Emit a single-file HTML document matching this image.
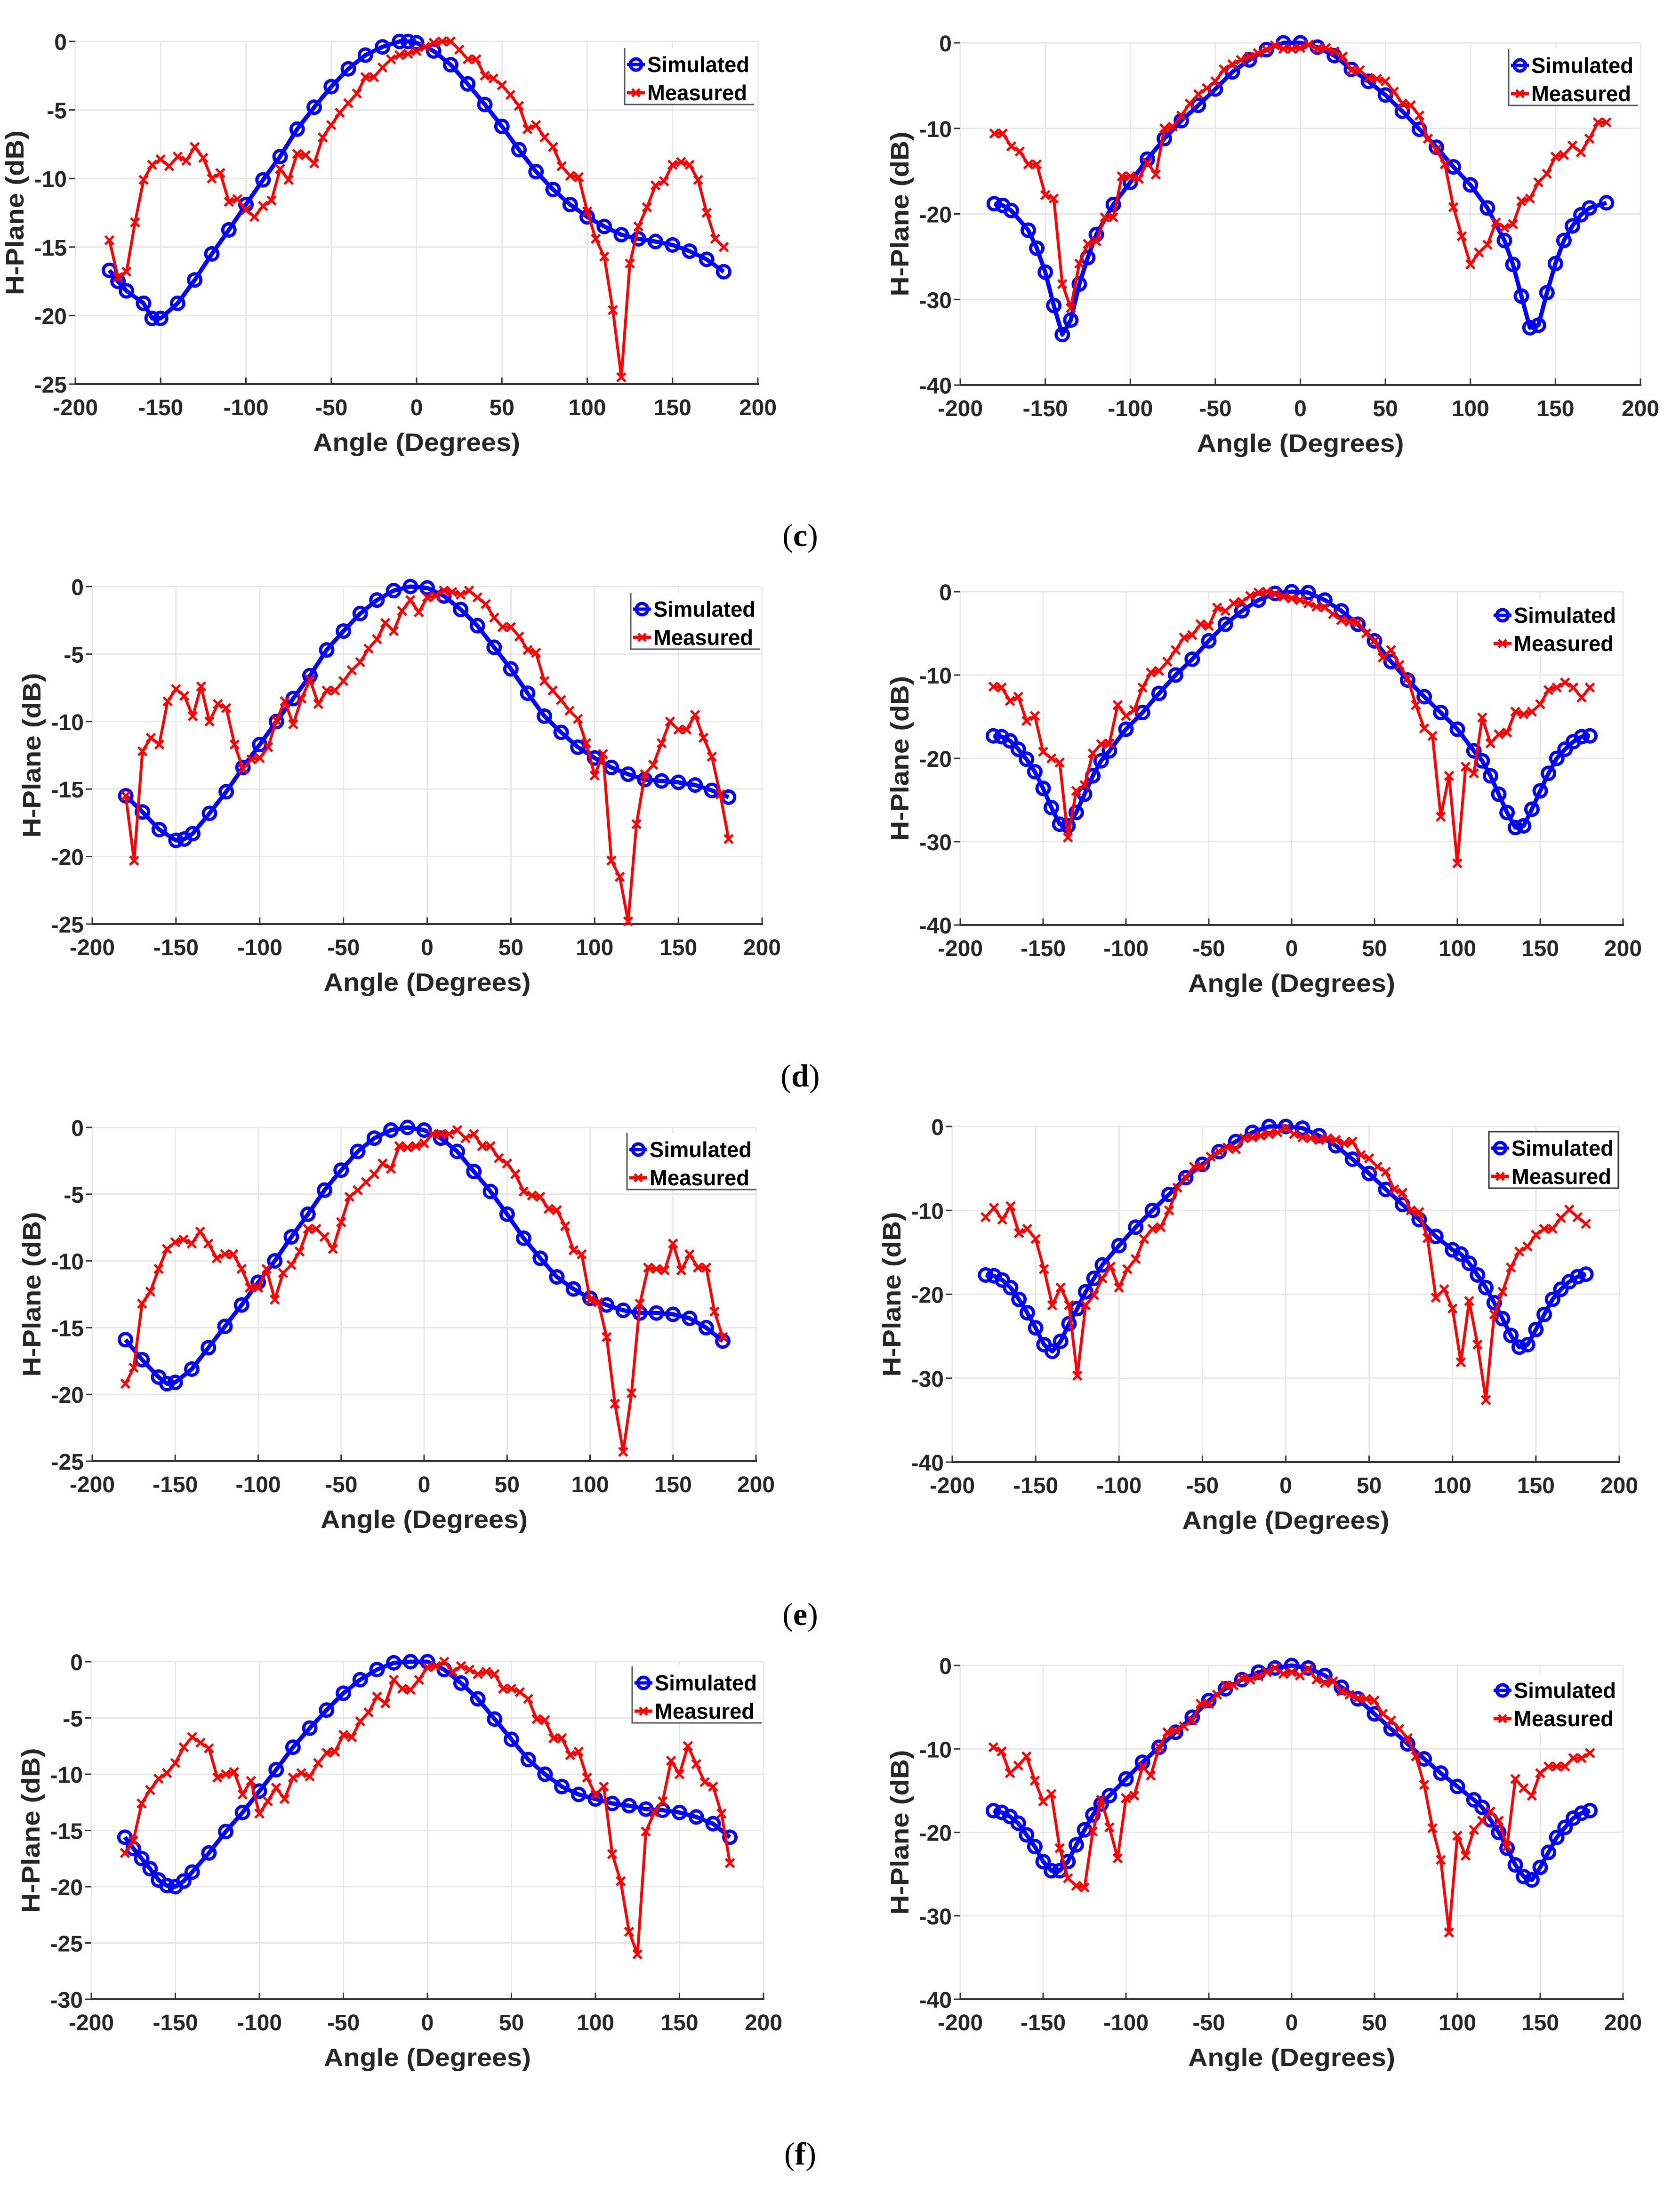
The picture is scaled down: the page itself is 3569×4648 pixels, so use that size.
<!DOCTYPE html>
<html><head><meta charset="utf-8"><style>
html,body{margin:0;padding:0;background:#fff;}
svg{display:block;}
</style></head><body>
<svg id="fig" xmlns="http://www.w3.org/2000/svg" width="3569" height="4648" viewBox="0 0 3569 4648"></svg>
<script>
// ---- Data ----
const angles5 = [-180,-175,-170,-165,-160,-155,-150,-145,-140,-135,-130,-125,-120,-115,-110,-105,-100,-95,-90,-85,-80,-75,-70,-65,-60,-55,-50,-45,-40,-35,-30,-25,-20,-15,-10,-5,0,5,10,15,20,25,30,35,40,45,50,55,60,65,70,75,80,85,90,95,100,105,110,115,120,125,130,135,140,145,150,155,160,165,170,175,180];

const simAnglesCL = [-180,-175,-170,-160,-155,-150,-140,-130,-120,-110,-100,-90,-80,-70,-60,-50,-40,-30,-20,-10,-5,0,10,20,30,40,50,60,70,80,90,100,110,120,130,140,150,160,170,180];
const simCL = [-16.7,-17.5,-18.2,-19.1,-20.2,-20.2,-19.1,-17.4,-15.5,-13.75,-11.9,-10.1,-8.4,-6.4,-4.8,-3.3,-2.0,-1.0,-0.4,0,0,-0.1,-0.7,-1.7,-3.1,-4.6,-6.2,-7.9,-9.5,-10.8,-11.9,-12.8,-13.5,-14.1,-14.4,-14.6,-14.85,-15.3,-15.9,-16.8];
const measCL = [-14.5,-17.2,-16.8,-13.2,-10.1,-9.0,-8.6,-9.1,-8.4,-8.7,-7.7,-8.5,-10.0,-9.6,-11.7,-11.5,-12.3,-12.8,-12.0,-11.6,-9.3,-10.1,-8.2,-8.3,-8.9,-7.0,-6.1,-5.2,-4.5,-3.8,-2.6,-2.6,-1.9,-1.3,-1.0,-0.9,-0.7,-0.4,-0.1,0,0,-0.6,-1.3,-1.3,-2.5,-2.7,-3.2,-3.9,-4.7,-6.4,-6.1,-7.0,-7.7,-9.1,-9.8,-9.9,-12.4,-14.4,-15.7,-19.6,-24.5,-16.2,-13.5,-12.1,-10.5,-10.2,-9.0,-8.8,-9.0,-10.1,-12.5,-14.4,-15.0];

const simAnglesCR = [-180,-175,-170,-160,-155,-150,-145,-140,-135,-130,-125,-120,-110,-100,-90,-80,-70,-60,-50,-40,-30,-20,-10,0,10,20,30,40,50,60,70,80,90,100,110,120,125,130,135,140,145,150,155,160,165,170,180];
const simCR = [-18.8,-19.0,-19.6,-21.9,-24.0,-26.8,-30.7,-34.1,-32.4,-28.2,-25.1,-22.4,-18.9,-16.3,-13.6,-11.2,-9.1,-7.3,-5.4,-3.4,-2.0,-0.8,0,0,-0.5,-1.5,-3.1,-4.5,-6.1,-8.0,-10.1,-12.2,-14.5,-16.6,-19.3,-23.1,-25.9,-29.6,-33.3,-33.0,-29.2,-25.8,-23.1,-21.4,-20.1,-19.3,-18.7];
const measCR = [-10.6,-10.6,-12.1,-12.7,-14.2,-14.2,-17.8,-18.2,-28.2,-31.0,-25.8,-23.5,-23.2,-20.4,-20.4,-15.6,-15.6,-15.9,-14.0,-15.4,-10.0,-9.8,-8.5,-7.1,-6.0,-5.3,-4.5,-3.1,-2.5,-2.0,-1.6,-1.2,-0.8,-0.3,-0.7,-0.7,-0.6,-0.2,-0.7,-0.6,-1.0,-1.6,-3.2,-3.2,-4.1,-4.2,-4.5,-5.7,-7.1,-7.3,-8.5,-11.2,-12.5,-14.2,-19.2,-22.6,-25.9,-24.5,-23.6,-21.0,-21.6,-21.2,-18.5,-18.2,-16.3,-15.3,-13.3,-13.1,-12.0,-12.8,-11.2,-9.3,-9.3];

const simAnglesDL = [-180,-170,-160,-150,-145,-140,-130,-120,-110,-100,-90,-80,-70,-60,-50,-40,-30,-20,-10,0,10,20,30,40,50,60,70,80,90,100,110,120,130,140,150,160,170,180];
const simDL = [-15.5,-16.7,-18.0,-18.8,-18.7,-18.3,-16.8,-15.2,-13.4,-11.7,-10.0,-8.3,-6.6,-4.7,-3.3,-2.0,-1.0,-0.3,0,-0.1,-0.7,-1.7,-2.9,-4.5,-6.1,-7.9,-9.6,-10.8,-11.9,-12.7,-13.4,-13.9,-14.3,-14.4,-14.5,-14.7,-15.1,-15.6];
const measDL = [-15.5,-20.3,-12.2,-11.2,-11.7,-8.5,-7.6,-8.1,-9.6,-7.4,-10.0,-8.7,-9.0,-11.7,-13.5,-12.8,-12.7,-11.9,-9.9,-8.5,-10.2,-8.3,-6.9,-8.7,-7.7,-7.7,-7.0,-6.2,-5.6,-4.6,-3.9,-2.7,-3.3,-1.8,-1.0,-1.9,-0.8,-0.7,-0.3,-0.4,-0.6,-0.3,-0.8,-1.3,-2.3,-3.0,-3.0,-3.7,-4.7,-4.9,-7.0,-7.7,-8.4,-9.2,-9.8,-11.6,-14.0,-12.4,-20.3,-21.5,-24.8,-17.6,-13.9,-13.2,-11.6,-10.0,-10.6,-10.6,-9.5,-11.2,-12.6,-15.4,-18.7];

const simAnglesDR = [-180,-175,-170,-165,-160,-155,-150,-145,-140,-135,-130,-125,-120,-115,-110,-100,-90,-80,-70,-60,-50,-40,-30,-20,-10,0,10,20,30,40,50,60,70,80,90,100,110,115,120,125,130,135,140,145,150,155,160,165,170,175,180];
const simDR = [-17.3,-17.4,-17.9,-18.9,-20.1,-21.6,-23.6,-25.9,-27.9,-28.1,-26.5,-24.3,-22.1,-20.3,-19.1,-16.5,-14.5,-12.2,-10.0,-8.1,-5.9,-3.9,-2.3,-1.0,-0.2,0,-0.1,-1.0,-2.3,-3.9,-5.9,-8.4,-10.6,-12.6,-14.5,-16.5,-19.1,-20.3,-22.1,-24.3,-26.5,-28.3,-28.1,-26.1,-23.9,-21.8,-20.0,-18.9,-18.0,-17.4,-17.3];
const measDR = [-11.4,-11.5,-13.1,-12.6,-15.5,-14.9,-19.2,-20.0,-20.5,-29.5,-23.9,-23.2,-19.4,-18.3,-18.2,-13.6,-14.9,-14.2,-11.5,-9.7,-9.5,-8.4,-7.0,-5.5,-5.2,-3.9,-4.1,-1.9,-2.3,-1.4,-1.2,-0.5,-0.1,0,-0.3,-0.6,-0.8,-1.0,-1.4,-1.8,-1.9,-2.7,-3.4,-3.6,-3.7,-5.0,-5.9,-7.9,-7.0,-8.8,-10.4,-13.6,-16.4,-17.3,-27.0,-22.1,-32.6,-21.0,-21.8,-15.1,-18.2,-17.1,-16.9,-14.4,-14.7,-14.4,-13.5,-11.8,-11.5,-10.9,-11.5,-12.7,-11.5];

const simAnglesEL = [-180,-170,-160,-155,-150,-140,-130,-120,-110,-100,-90,-80,-70,-60,-50,-40,-30,-20,-10,0,10,20,30,40,50,60,70,80,90,100,110,120,130,140,150,160,170,180];
const simEL = [-15.9,-17.4,-18.7,-19.2,-19.1,-18.1,-16.5,-14.9,-13.3,-11.6,-10.0,-8.2,-6.5,-4.7,-3.2,-1.8,-0.8,-0.2,0,-0.2,-0.8,-1.8,-3.3,-4.8,-6.5,-8.3,-9.8,-11.2,-12.1,-12.8,-13.3,-13.7,-13.9,-13.9,-14.0,-14.3,-15.0,-16.0];
const measEL = [-19.2,-18.0,-13.2,-12.3,-10.6,-9.1,-8.6,-8.4,-8.7,-7.8,-8.7,-9.8,-9.5,-9.5,-10.6,-12.0,-12.0,-10.6,-12.9,-10.9,-10.3,-9.3,-7.6,-7.6,-8.2,-9.1,-7.1,-5.2,-4.7,-4.1,-3.5,-2.7,-3.1,-1.4,-1.5,-1.4,-1.2,-0.5,-0.5,-0.5,-0.2,-0.8,-0.5,-1.4,-1.4,-2.3,-2.7,-3.5,-4.8,-5.1,-5.2,-6.1,-6.2,-7.4,-9.2,-9.5,-12.9,-13.1,-15.7,-20.7,-24.3,-19.9,-13.2,-10.5,-10.6,-10.7,-8.7,-10.7,-9.5,-10.5,-10.5,-13.8,-15.7];

const simAnglesER = [-180,-175,-170,-165,-160,-155,-150,-145,-140,-135,-130,-125,-120,-115,-110,-100,-90,-80,-70,-60,-50,-40,-30,-20,-10,0,10,20,30,40,50,60,70,80,90,100,105,110,115,120,125,130,135,140,145,150,155,160,165,170,175,180];
const simER = [-17.7,-17.8,-18.3,-19.2,-20.6,-22.2,-24.0,-26.0,-26.8,-25.6,-23.5,-21.7,-19.7,-18.1,-16.5,-14.2,-12.0,-10.0,-8.1,-6.1,-4.5,-3.0,-1.8,-0.7,0,0,-0.2,-1.1,-2.3,-3.9,-5.6,-7.5,-9.3,-11.1,-13.1,-14.7,-15.2,-16.3,-17.7,-19.2,-21.0,-22.9,-24.9,-26.3,-26.0,-24.2,-22.4,-20.6,-19.4,-18.5,-17.9,-17.6];
const measER = [-10.8,-9.7,-11.1,-9.5,-12.7,-12.2,-13.4,-17.0,-21.3,-19.2,-21.3,-29.7,-21.3,-20.1,-18.1,-16.7,-19.2,-17.0,-15.8,-13.4,-12.2,-12.0,-10.0,-7.3,-6.1,-4.8,-4.8,-3.6,-3.0,-2.5,-2.7,-1.4,-1.3,-1.1,-0.9,-0.7,-0.2,-0.9,-1.3,-1.4,-1.6,-1.4,-1.6,-2.0,-1.8,-3.4,-3.8,-4.8,-5.4,-7.5,-7.9,-10.0,-10.2,-13.3,-20.4,-19.4,-21.7,-28.1,-20.8,-26.0,-32.6,-22.4,-19.7,-16.8,-14.9,-14.3,-12.9,-12.2,-12.2,-10.9,-9.9,-10.8,-11.6];

const simAnglesFL = [-180,-175,-170,-165,-160,-155,-150,-145,-140,-130,-120,-110,-100,-90,-80,-70,-60,-50,-40,-30,-20,-10,0,10,20,30,40,50,60,70,80,90,100,110,120,130,140,150,160,170,180];
const simFL = [-15.6,-16.6,-17.5,-18.4,-19.4,-19.9,-20.0,-19.5,-18.7,-17.0,-15.1,-13.4,-11.5,-9.6,-7.6,-5.9,-4.3,-2.8,-1.6,-0.7,-0.1,0,0,-0.7,-1.9,-3.3,-5.1,-6.9,-8.7,-10.0,-11.1,-11.8,-12.2,-12.6,-12.8,-13.1,-13.2,-13.4,-13.8,-14.4,-15.6];
const measFL = [-17.0,-15.9,-12.6,-11.4,-10.4,-9.9,-9.0,-7.6,-6.7,-7.2,-7.7,-10.3,-10.0,-9.8,-11.8,-10.6,-13.5,-12.4,-11.2,-12.2,-10.3,-9.9,-10.2,-9.0,-8.1,-8.0,-6.5,-6.7,-5.3,-4.5,-3.1,-3.7,-1.6,-2.4,-2.5,-1.6,-0.5,-0.4,0,-0.9,-0.4,-0.7,-1.1,-0.9,-1.1,-2.4,-2.4,-2.7,-3.3,-5.1,-5.2,-6.8,-6.8,-8.3,-8.0,-10.3,-11.8,-11.1,-17.1,-19.5,-24.0,-26.0,-15.1,-13.4,-12.4,-8.8,-10.0,-7.5,-9.1,-10.7,-11.1,-13.5,-17.9];

const simAnglesFR = [-180,-175,-170,-165,-160,-155,-150,-145,-140,-135,-130,-125,-120,-115,-110,-100,-90,-80,-70,-60,-50,-40,-30,-20,-10,0,10,20,30,40,50,60,70,80,90,100,110,115,120,125,130,135,140,145,150,155,160,165,170,175,180];
const simFR = [-17.4,-17.6,-18.1,-18.9,-20.3,-21.7,-23.5,-24.6,-24.6,-23.5,-21.5,-19.7,-17.9,-16.6,-15.6,-13.6,-11.6,-9.8,-8.0,-6.2,-4.2,-2.8,-1.7,-0.8,-0.3,0,-0.3,-1.2,-2.6,-4.0,-5.8,-7.6,-9.4,-11.2,-12.9,-14.5,-16.1,-17.0,-18.5,-20.0,-21.9,-23.9,-25.3,-25.7,-24.2,-22.4,-20.6,-19.4,-18.3,-17.7,-17.4];
const measFR = [-9.8,-10.3,-12.9,-12.0,-10.9,-13.8,-16.3,-15.4,-21.9,-25.5,-26.4,-26.6,-19.9,-16.1,-19.4,-23.1,-15.9,-15.6,-12.1,-13.2,-9.8,-8.0,-7.8,-7.3,-6.6,-4.6,-4.6,-3.5,-2.4,-2.4,-1.5,-1.7,-1.3,-0.8,-0.3,-1.0,-0.8,-1.2,-0.4,-1.7,-2.1,-1.9,-3.1,-3.5,-3.9,-4.0,-4.2,-5.8,-6.6,-7.6,-8.7,-10.9,-14.3,-19.5,-23.3,-32.0,-20.4,-22.8,-19.7,-18.6,-17.5,-18.6,-21.7,-13.6,-14.7,-15.6,-12.9,-12.1,-12.1,-12.1,-11.1,-11.1,-10.5];

const xTicks = [-200,-150,-100,-50,0,50,100,150,200];
const yTicks25 = [0,-5,-10,-15,-20,-25];
const yTicks30 = [0,-5,-10,-15,-20,-25,-30];
const yTicks40 = [0,-10,-20,-30,-40];
const legendLabels = ["Simulated","Measured"];
const panelLabels = ["c","d","e","f"];

// ---- Layout ----
const panels = [
 {id:"c-left", x0:160,x1:1610,y0:88,y1:816,ymin:-25,yt:yTicks25,sa:simAnglesCL,sv:simCL,mv:measCL,lx:1327,ly:102},
 {id:"c-right",x0:2040,x1:3485,y0:91,y1:818,ymin:-40,yt:yTicks40,sa:simAnglesCR,sv:simCR,mv:measCR,lx:3205,ly:104},
 {id:"d-left", x0:196,x1:1619,y0:1246,y1:1963,ymin:-25,yt:yTicks25,sa:simAnglesDL,sv:simDL,mv:measDL,lx:1340,ly:1259},
 {id:"d-right",x0:2040,x1:3448,y0:1257,y1:1965,ymin:-40,yt:yTicks40,sa:simAnglesDR,sv:simDR,mv:measDR,lx:3168,ly:1272,nobox:true},
 {id:"e-left", x0:196,x1:1606,y0:2395,y1:3104,ymin:-25,yt:yTicks25,sa:simAnglesEL,sv:simEL,mv:measEL,lx:1332,ly:2407},
 {id:"e-right",x0:2023,x1:3440,y0:2393,y1:3106,ymin:-40,yt:yTicks40,sa:simAnglesER,sv:simER,mv:measER,lx:3163,ly:2404,full:true},
 {id:"f-left", x0:194,x1:1622,y0:3530,y1:4247,ymin:-30,yt:yTicks30,sa:simAnglesFL,sv:simFL,mv:measFL,lx:1343,ly:3540},
 {id:"f-right",x0:2040,x1:3448,y0:3538,y1:4247,ymin:-40,yt:yTicks40,sa:simAnglesFR,sv:simFR,mv:measFR,lx:3168,ly:3556,nobox:true}
];
const labelY = [1160,2308,3452,4598];

const NS = "http://www.w3.org/2000/svg";
const svg = document.getElementById("fig");
function mk(tag, attrs, parent){
  const e = document.createElementNS(NS, tag);
  for (const k in attrs) e.setAttribute(k, attrs[k]);
  (parent||svg).appendChild(e);
  return e;
}

panels.forEach(function(p){
  const g = mk("g", {});
  
  
  const sx = function(a){ return p.x0 + (a + 200) / 400 * (p.x1 - p.x0); };
  const sy = function(v){ return p.y0 + (0 - v) / (0 - p.ymin) * (p.y1 - p.y0); };
  xTicks.forEach(function(t){
    const l = mk("line", {x1:sx(t), x2:sx(t), y1:p.y0, y2:p.y1, stroke:"#e8e8e8", "stroke-width":3}, g);
    
    
  });
  p.yt.forEach(function(t){
    const l = mk("line", {x1:p.x0, x2:p.x1, y1:sy(t), y2:sy(t), stroke:"#e8e8e8", "stroke-width":3}, g);
    
    
  });
  const xa = mk("line", {x1:p.x0, x2:p.x1+2, y1:p.y1, y2:p.y1, stroke:"#333", "stroke-width":4}, g);
  
  
  const ra = mk("line", {x1:p.x1, x2:p.x1, y1:p.y1, y2:p.y1-14, stroke:"#333", "stroke-width":3}, g);
  
  
  xTicks.forEach(function(t){
    const tk = mk("line", {x1:sx(t), x2:sx(t), y1:p.y1, y2:p.y1-14, stroke:"#333", "stroke-width":3}, g);
    
    
    const tx = mk("text", {x:sx(t), y:p.y1+66, "text-anchor":"middle", "font-family":"Liberation Sans, Arial, sans-serif", "font-size":48, "font-weight":"bold", fill:"#262626"}, g);
    tx.textContent = String(t);
    
    
  });
  p.yt.forEach(function(t){
    const tk = mk("line", {x1:p.x0-13, x2:p.x0, y1:sy(t), y2:sy(t), stroke:"#333", "stroke-width":3}, g);
    
    
    const tx = mk("text", {x:p.x0-18, y:sy(t)+18, "text-anchor":"end", "font-family":"Liberation Sans, Arial, sans-serif", "font-size":48, "font-weight":"bold", fill:"#262626"}, g);
    tx.textContent = String(t);
    
    
  });
  const xt = mk("text", {x:(p.x0+p.x1)/2, y:p.y1+142, "text-anchor":"middle", "font-family":"Liberation Sans, Arial, sans-serif", "font-size":54, "font-weight":"bold", fill:"#262626", textLength:440, lengthAdjust:"spacingAndGlyphs"}, g);
  xt.textContent = "Angle (Degrees)";
  
  
  const cy = (p.y0+p.y1)/2, cx = p.x0-110;
  const yt = mk("text", {x:cx, y:cy, "text-anchor":"middle", transform:"rotate(-90 "+cx+" "+cy+")", "font-family":"Liberation Sans, Arial, sans-serif", "font-size":54, "font-weight":"bold", fill:"#262626", textLength:350, lengthAdjust:"spacingAndGlyphs"}, g);
  yt.textContent = "H-Plane (dB)";
  
  
  // simulated series
  let d = "";
  for (let i=0;i<Math.min(p.sa.length,p.sv.length);i++){ d += (i?"L":"M") + sx(p.sa[i]).toFixed(1) + "," + sy(p.sv[i]).toFixed(1); }
  const sl = mk("path", {d:d, fill:"none", stroke:"#0000ff", "stroke-width":9, "stroke-linejoin":"round"}, g);
  
  
  for (let i=0;i<Math.min(p.sa.length,p.sv.length);i++){
    const c = mk("circle", {cx:sx(p.sa[i]), cy:sy(p.sv[i]), r:13, fill:"none", stroke:"#0000ff", "stroke-width":7}, g);
    
    
  }
  // measured series
  d = "";
  for (let i=0;i<Math.min(angles5.length,p.mv.length);i++){ d += (i?"L":"M") + sx(angles5[i]).toFixed(1) + "," + sy(p.mv[i]).toFixed(1); }
  const ml = mk("path", {d:d, fill:"none", stroke:"#ff0000", "stroke-width":6, "stroke-linejoin":"round"}, g);
  
  
  for (let i=0;i<Math.min(angles5.length,p.mv.length);i++){
    const X = sx(angles5[i]), Y = sy(p.mv[i]), s = 9;
    const m = mk("path", {d:"M"+(X-s)+","+(Y-s)+"L"+(X+s)+","+(Y+s)+"M"+(X-s)+","+(Y+s)+"L"+(X+s)+","+(Y-s), stroke:"#ff0000", "stroke-width":5, fill:"none"}, g);
    
    
  }
  // legend
  const lg = mk("g", {}, g);
  
  
  mk("rect", {x:p.lx, y:p.ly, width:275, height:120, fill:"#fff", stroke:"none"}, lg);
  if (p.full) {
    mk("rect", {x:p.lx, y:p.ly, width:275, height:120, fill:"none", stroke:"#333", "stroke-width":3}, lg);
  } else if (!p.nobox) {
    mk("path", {d:"M"+p.lx+","+p.ly+"L"+p.lx+","+(p.ly+120)+"L"+(p.lx+275)+","+(p.ly+120), fill:"none", stroke:"#555", "stroke-width":3}, lg);
  }
  legendLabels.forEach(function(lab, k){
    const yy = p.ly + 35 + k*60;
    const col = k===0 ? "#0000ff" : "#ff0000";
    const ln = mk("line", {x1:p.lx+5, x2:p.lx+43, y1:yy, y2:yy, stroke:col, "stroke-width":7}, lg);
    
    
    if (k===0) mk("circle", {cx:p.lx+24, cy:yy, r:12, fill:"none", stroke:col, "stroke-width":7}, lg);
    else mk("path", {d:"M"+(p.lx+16)+","+(yy-8)+"L"+(p.lx+32)+","+(yy+8)+"M"+(p.lx+16)+","+(yy+8)+"L"+(p.lx+32)+","+(yy-8), stroke:col, "stroke-width":5}, lg);
    const t = mk("text", {x:p.lx+48, y:yy+16, "font-family":"Liberation Sans, Arial, sans-serif", "font-size":46, "font-weight":"bold", fill:"#000", textLength:(k===0?217:212), lengthAdjust:"spacingAndGlyphs"}, lg);
    t.textContent = lab;
    
    
  });
});

panelLabels.forEach(function(l, i){
  const t = mk("text", {x:1700, y:labelY[i], "text-anchor":"middle", "font-family":"Liberation Serif, Times New Roman, serif", "font-size":68, fill:"#000"});
  
  
  const a = document.createElementNS(NS, "tspan"); a.textContent = "(";
  const b = document.createElementNS(NS, "tspan"); b.textContent = l; b.setAttribute("font-weight","bold");
  const c = document.createElementNS(NS, "tspan"); c.textContent = ")";
  t.appendChild(a); t.appendChild(b); t.appendChild(c);
});
</script>
</body></html>
